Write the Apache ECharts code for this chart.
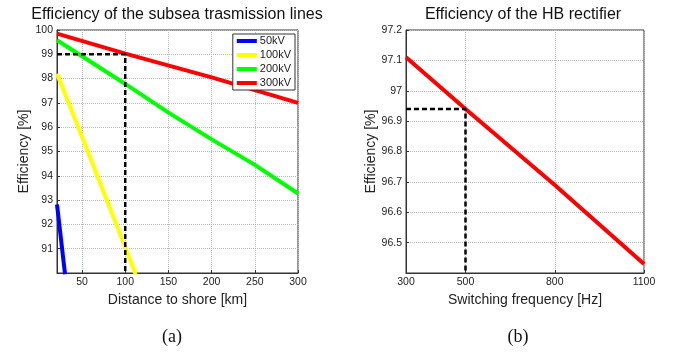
<!DOCTYPE html>
<html>
<head>
<meta charset="utf-8">
<script src="https://cdn.jsdelivr.net/npm/echarts@6/dist/echarts.min.js"></script>
<style>
  html, body { margin: 0; padding: 0; background: #fff; }
  #chart { width: 682px; height: 352px; }
</style>
</head>
<body>
<div id="chart"></div>
<script>
// (a) subsea transmission lines, distance in km vs efficiency in %
const km50 = [21, 30.3];
const eff50 = [92.82, 89.95];
const km100 = [21, 50, 100, 112];
const eff100 = [98.2, 95.6, 91.05, 89.95];
const km200 = [21, 50, 100, 150, 200, 250, 300];
const eff200 = [99.58, 98.92, 97.78, 96.6, 95.5, 94.45, 93.27];
const km300 = [21, 100, 200, 300];
const eff300 = [99.85, 99.03, 98.05, 97.0];
const guideAx = [21, 100, 100];
const guideAy = [99, 99, 90];
const distTicks = [50, 100, 150, 200, 250, 300];

// (b) HB rectifier, switching frequency in Hz vs efficiency in %
const freqHz = [300, 500, 800, 1100];
const effHB = [97.11, 96.94, 96.69, 96.43];
const guideBx = [300, 500, 500];
const guideBy = [96.94, 96.94, 96.4];
const freqTicks = [300, 500, 800, 1100];

const zip = (xs, ys) => xs.map((x, i) => [x, ys[i]]);

const FONT = 'Liberation Sans';
const grid = { show: true, borderColor: '#333', borderWidth: 1, backgroundColor: '#fff' };
const dotted = { show: true, lineStyle: { type: 'dotted', color: '#b8b8b8', width: 1 } };
const label = { fontFamily: FONT, fontSize: 10.5, color: '#222' };
const axName = { fontFamily: FONT, fontSize: 14, color: '#222' };

function xAxis(idx, min, max, ticks, name) {
  return {
    gridIndex: idx, type: 'value', min: min, max: max,
    axisLine: { show: true, lineStyle: { color: '#333' } },
    axisTick: { show: true, inside: true, length: 3, customValues: ticks, lineStyle: { color: '#333' } },
    axisLabel: Object.assign({ customValues: ticks, margin: 4, formatter: v => String(v) }, label),
    splitLine: dotted,
    name: name, nameLocation: 'middle', nameGap: 14, nameTextStyle: axName
  };
}

function yAxis(idx, min, max, step, gap) {
  return {
    gridIndex: idx, type: 'value', min: min, max: max, interval: step,
    axisLine: { show: true, lineStyle: { color: '#333' } },
    axisTick: { show: true, inside: true, length: 3, lineStyle: { color: '#333' } },
    axisLabel: Object.assign({ showMinLabel: false, margin: 4 }, label),
    splitLine: dotted,
    name: 'Efficiency [%]', nameLocation: 'middle', nameGap: gap, nameTextStyle: axName
  };
}

function curve(name, xs, ys, color, idx) {
  return {
    name: name, type: 'line', xAxisIndex: idx, yAxisIndex: idx,
    data: zip(xs, ys), showSymbol: false, symbol: 'none',
    lineStyle: { color: color, width: 4 }, itemStyle: { color: color },
    clip: true, z: 3
  };
}

function guide(xs, ys, idx) {
  return {
    type: 'line', xAxisIndex: idx, yAxisIndex: idx,
    data: zip(xs, ys), showSymbol: false, symbol: 'none',
    lineStyle: { color: '#000', width: 2.5, type: [5, 3] },
    silent: true, z: 4
  };
}

function text(str, x, y, font) {
  return { type: 'text', style: { text: str, x: x, y: y, textAlign: 'center', font: font, fill: '#111' } };
}

const chart = echarts.init(document.getElementById('chart'), null, { renderer: 'canvas' });

chart.setOption({
  animation: false,
  backgroundColor: '#fff',
  grid: [
    Object.assign({ left: 57, right: 384, top: 30, bottom: 79 }, grid),
    Object.assign({ left: 406, right: 38, top: 30, bottom: 79 }, grid)
  ],
  xAxis: [
    xAxis(0, 21, 300, distTicks, 'Distance to shore [km]'),
    xAxis(1, 300, 1100, freqTicks, 'Switching frequency [Hz]')
  ],
  yAxis: [
    yAxis(0, 90, 100, 1, 25),
    yAxis(1, 96.4, 97.2, 0.1, 27)
  ],
  legend: {
    orient: 'vertical', right: 387, top: 34,
    data: ['50kV', '100kV', '200kV', '300kV'],
    icon: 'rect', itemWidth: 20, itemHeight: 4, itemGap: 0,
    padding: [0, 4, 0, 4],
    backgroundColor: '#fff', borderColor: '#333', borderWidth: 1, borderRadius: 0,
    textStyle: { fontFamily: FONT, fontSize: 11, color: '#222', lineHeight: 14, padding: [0, 0, 0, -2] }
  },
  graphic: [
    text('Efficiency of the subsea trasmission lines', 177, 7, '16px "' + FONT + '"'),
    text('Efficiency of the HB rectifier', 523, 7, '16px "' + FONT + '"'),
    text('(a)', 172, 328, '18px "Liberation Serif"'),
    text('(b)', 518, 328, '18px "Liberation Serif"')
  ],
  series: [
    curve('50kV', km50, eff50, '#0000ff', 0),
    curve('100kV', km100, eff100, '#ffff00', 0),
    curve('200kV', km200, eff200, '#00ff00', 0),
    curve('300kV', km300, eff300, '#ff0000', 0),
    guide(guideAx, guideAy, 0),
    curve('HB', freqHz, effHB, '#ff0000', 1),
    guide(guideBx, guideBy, 1)
  ]
});
</script>
</body>
</html>
